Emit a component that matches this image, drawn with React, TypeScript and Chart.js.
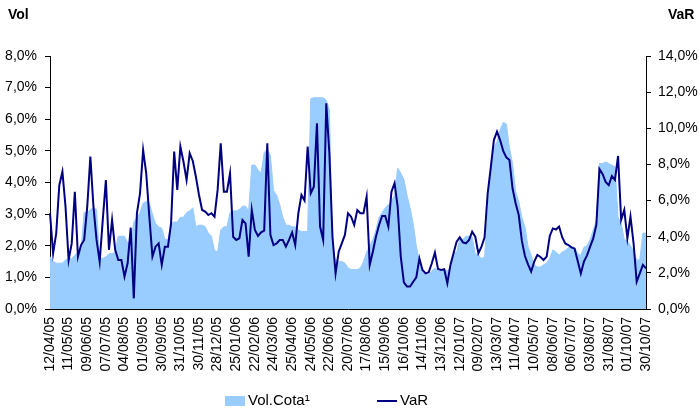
import React, { useEffect, useRef } from 'react';
import { Chart, registerables } from 'chart.js';

Chart.register(...registerables);

const tickLabels = [
  '12/04/05', '11/05/05', '09/06/05', '07/07/05', '04/08/05', '01/09/05', '30/09/05', '31/10/05',
  '30/11/05', '28/12/05', '25/01/06', '22/02/06', '24/03/06', '25/04/06', '24/05/06', '22/06/06',
  '20/07/06', '17/08/06', '15/09/06', '16/10/06', '14/11/06', '13/12/06', '12/01/07', '09/02/07',
  '13/03/07', '11/04/07', '10/05/07', '08/06/07', '06/07/07', '03/08/07', '31/08/07', '01/10/07',
  '30/10/07',
];

// Vol.Cota¹ (left axis, %), 6 readings per tick interval
const volCota = [
  1.66, 1.50, 1.45, 1.45, 1.45, 1.55, 1.60, 1.60, 1.70, 1.80, 1.85, 3.05,
  3.05, 3.15, 3.20, 3.15, 1.60, 1.60, 1.65, 1.75, 1.75, 1.80, 2.30, 2.30,
  2.30, 2.10, 2.10, 2.75, 2.90, 3.05, 3.35, 3.40, 3.35, 3.00, 2.70, 2.60,
  2.55, 2.20, 2.20, 2.70, 2.75, 2.75, 2.90, 2.90, 3.05, 3.10, 3.20, 2.60,
  2.65, 2.65, 2.60, 2.40, 2.30, 1.85, 1.80, 2.50, 2.60, 2.60, 3.05, 3.10,
  3.10, 3.15, 3.25, 3.25, 3.10, 4.55, 4.55, 4.40, 4.30, 4.95, 5.05, 4.85,
  3.75, 3.60, 3.30, 2.90, 2.65, 2.65, 2.60, 2.60, 2.50, 2.45, 2.45, 2.45,
  6.65, 6.68, 6.68, 6.68, 6.68, 6.60, 6.30, 1.80, 1.55, 1.50, 1.50, 1.45,
  1.30, 1.25, 1.25, 1.25, 1.30, 1.50, 1.80, 2.00, 2.20, 2.50, 2.90, 3.05,
  3.20, 3.30, 3.40, 3.60, 4.45, 4.30, 4.10, 3.60, 3.20, 2.70, 2.00, 1.50,
  1.15, 1.10, 1.10, 1.20, 1.30, 1.20, 1.20, 1.25, 1.20, 1.30, 1.75, 1.80,
  2.20, 2.20, 2.30, 2.30, 2.27, 1.75, 1.70, 1.60, 1.65, 3.00, 4.50, 5.10,
  5.30, 5.66, 5.90, 5.85, 5.10, 4.60, 3.70, 3.40, 2.90, 2.60, 1.97, 1.70,
  1.40, 1.33, 1.33, 1.40, 1.45, 1.60, 1.87, 1.80, 1.70, 1.80, 1.85, 1.95,
  1.95, 1.95, 1.75, 1.70, 1.95, 2.00, 2.20, 2.50, 2.80, 4.60, 4.60, 4.65,
  4.60, 4.55, 4.50, 2.90, 2.70, 2.20, 2.15, 2.00, 1.85, 1.55, 1.55, 2.40,
  2.40,
];

// VaR (right axis, %), 6 readings per tick interval
const varValues = [
  5.30, 3.08, 4.19, 6.86, 7.60, 5.66, 2.71, 3.63, 6.49, 2.90, 3.54, 3.82,
  5.66, 8.43, 5.66, 3.82, 2.62, 4.93, 7.14, 3.27, 4.93, 3.27, 2.71, 2.71,
  1.79, 2.53, 4.50, 0.59, 5.30, 6.40, 8.80, 7.51, 5.11, 2.90, 3.45, 3.63,
  2.44, 3.45, 3.45, 4.74, 8.71, 6.59, 8.99, 8.15, 7.14, 8.62, 8.19, 7.32,
  6.31, 5.48, 5.39, 5.20, 5.30, 5.11, 6.59, 9.17, 6.49, 6.49, 7.51, 4.00,
  3.82, 3.91, 4.93, 4.74, 2.90, 5.48, 4.37, 4.04, 4.24, 4.33, 9.17, 4.10,
  3.54, 3.63, 3.82, 3.82, 3.45, 3.82, 4.24, 3.54, 5.30, 6.31, 6.00, 8.99,
  6.40, 6.77, 10.28, 4.56, 3.82, 11.38, 8.62, 4.00, 1.97, 3.17, 3.63, 4.10,
  5.30, 5.11, 4.65, 5.48, 5.30, 5.30, 6.22, 2.44, 3.17, 4.00, 4.65, 5.15,
  5.15, 4.56, 6.49, 6.96, 5.66, 2.90, 1.48, 1.24, 1.24, 1.51, 1.75, 2.80,
  2.16, 1.97, 2.03, 2.53, 3.12, 2.21, 2.16, 2.20, 1.42, 2.44, 3.08, 3.73,
  3.97, 3.69, 3.63, 3.82, 4.28, 4.00, 3.08, 3.45, 3.97, 6.40, 7.84, 9.35,
  9.82, 9.35, 8.75, 8.39, 8.25, 6.68, 5.85, 5.20, 3.78, 2.93, 2.47, 2.07,
  2.62, 2.99, 2.88, 2.71, 2.90, 4.04, 4.46, 4.40, 4.56, 3.97, 3.63, 3.54,
  3.41, 3.34, 2.66, 1.97, 2.62, 2.97, 3.45, 3.91, 4.65, 7.75, 7.47, 7.03,
  6.85, 7.36, 7.14, 8.47, 4.93, 5.48, 3.91, 5.11, 3.63, 1.51, 1.97, 2.44,
  2.25,
];

const STEP = 6;
const FONT = '"Liberation Sans", Arial, sans-serif';
const VOL_COLOR = '#99CCFF';
const VAR_COLOR = '#000080';

const pct = (v: number) => v.toFixed(1).replace('.', ',') + '%';

const overlay = {
  id: 'overlay',
  afterDraw(chart: any) {
    const ctx = chart.ctx;
    const ds = chart.data.datasets;
    ctx.save();
    ctx.fillStyle = '#000';
    ctx.textBaseline = 'middle';
    ctx.textAlign = 'left';
    ctx.font = `bold 14px ${FONT}`;
    ctx.fillText('Vol', 8, 15);
    ctx.fillText('VaR', 668, 15);
    ctx.font = `15px ${FONT}`;
    ctx.fillStyle = VOL_COLOR;
    ctx.fillRect(225, 396, 20, 10);
    ctx.fillStyle = '#000';
    ctx.fillText(ds[0].label, 248, 401);
    ctx.strokeStyle = VAR_COLOR;
    ctx.lineWidth = 2;
    ctx.beginPath();
    ctx.moveTo(377, 401);
    ctx.lineTo(397, 401);
    ctx.stroke();
    ctx.fillText(ds[1].label, 400, 401);
    ctx.restore();
  },
};

export default function App() {
  const ref = useRef<HTMLCanvasElement | null>(null);

  useEffect(() => {
    document.body.style.margin = '0';
    const labels = volCota.map((_, i) => (i % STEP === 0 ? tickLabels[i / STEP] : ''));
    const tickFont = { family: FONT, size: 14 };
    const chart = new Chart(ref.current as HTMLCanvasElement, {
      type: 'line',
      data: {
        labels,
        datasets: [
          {
            label: 'Vol.Cota¹',
            data: volCota,
            yAxisID: 'y',
            fill: 'origin',
            backgroundColor: VOL_COLOR,
            borderColor: VOL_COLOR,
            borderWidth: 1,
            pointRadius: 0,
            tension: 0,
            order: 2,
          },
          {
            label: 'VaR',
            data: varValues,
            yAxisID: 'y2',
            fill: false,
            borderColor: VAR_COLOR,
            borderWidth: 2,
            pointRadius: 0,
            tension: 0,
            order: 1,
          },
        ],
      },
      options: {
        responsive: false,
        animation: false,
        layout: { padding: { top: 56, left: 0, right: 0, bottom: 0 } },
        plugins: { legend: { display: false }, tooltip: { enabled: false } },
        scales: {
          x: {
            type: 'category',
            grid: { display: false, drawTicks: false },
            border: { display: true, color: '#000', width: 1 },
            ticks: {
              autoSkip: false,
              maxRotation: 90,
              minRotation: 90,
              padding: 8,
              color: '#000',
              font: tickFont,
              callback: (_v: any, i: number) => (i % STEP === 0 ? tickLabels[i / STEP] : null),
            },
            afterFit: (s: any) => { s.height = 100; },
          },
          y: {
            position: 'left',
            min: 0,
            max: 8,
            grid: { display: true, drawOnChartArea: false, drawTicks: true, tickLength: 5, color: '#000' },
            border: { display: true, color: '#000', width: 1 },
            ticks: { stepSize: 1, padding: 8, color: '#000', font: tickFont, callback: (v: any) => pct(Number(v)) },
            afterFit: (s: any) => { s.width = 50; },
          },
          y2: {
            position: 'right',
            min: 0,
            max: 14,
            grid: { display: true, drawOnChartArea: false, drawTicks: true, tickLength: 5, color: '#000' },
            border: { display: true, color: '#000', width: 1 },
            ticks: { stepSize: 2, padding: 7, color: '#000', font: tickFont, callback: (v: any) => pct(Number(v)) },
            afterFit: (s: any) => { s.width = 54; },
          },
        },
      },
      plugins: [overlay],
    });
    return () => chart.destroy();
  }, []);

  return (
    <div style={{ width: 700, height: 409, position: 'relative' }}>
      <canvas ref={ref} width={700} height={409} style={{ display: 'block' }} />
    </div>
  );
}
